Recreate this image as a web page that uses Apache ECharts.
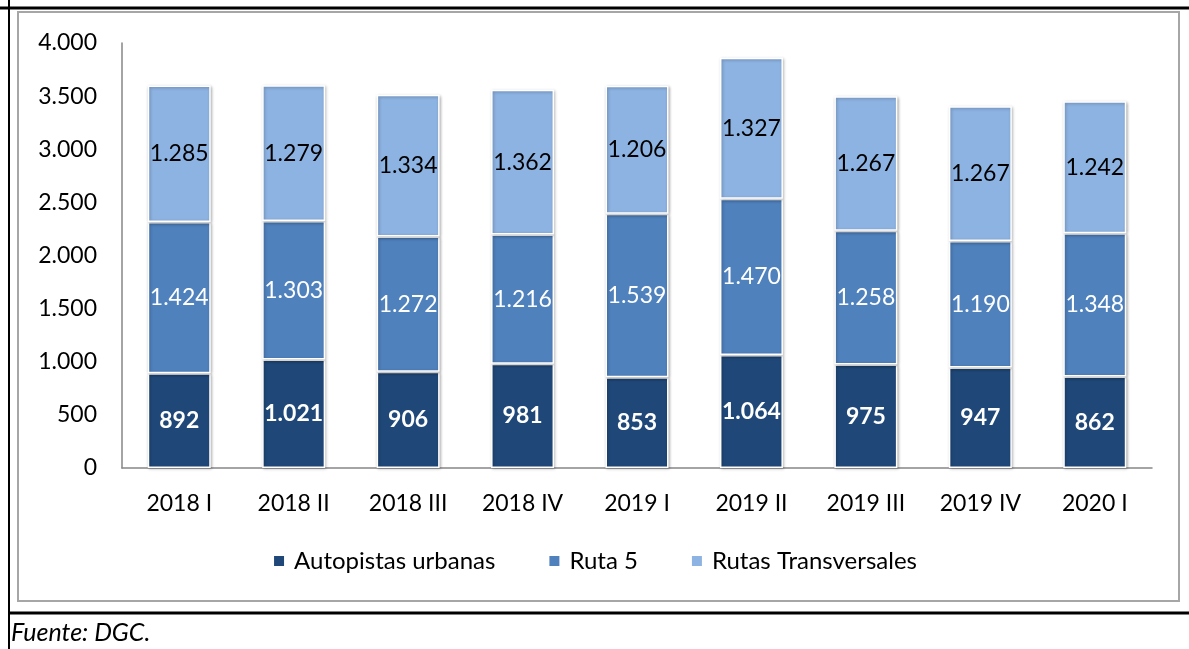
<!DOCTYPE html>
<html>
<head>
<meta charset="utf-8">
<script src="https://cdn.jsdelivr.net/npm/echarts@6/dist/echarts.min.js"></script>
<style>
  html, body { margin: 0; padding: 0; background: #fff; }
  #chart { width: 1189px; height: 649px; }
</style>
</head>
<body>
<div id="chart"></div>
<script>
// periodos
const categories = ['2018 I', '2018 II', '2018 III', '2018 IV', '2019 I', '2019 II', '2019 III', '2019 IV', '2020 I'];
const autopistas = [892, 1021, 906, 981, 853, 1064, 975, 947, 862];
const ruta5 = [1424, 1303, 1272, 1216, 1539, 1470, 1258, 1190, 1348];
const transversales = [1285, 1279, 1334, 1362, 1206, 1327, 1267, 1267, 1242];
const yTicks = [0, 500, 1000, 1500, 2000, 2500, 3000, 3500, 4000];

const fontFam = 'Lato, "Open Sans", sans-serif';

function fmt(v) {
    return String(v).replace(/\B(?=(\d{3})+(?!\d))/g, '.');
}

const chart = echarts.init(document.getElementById('chart'));

const barStyle = (color) => ({
    color: color,
    borderColor: '#ffffff',
    borderWidth: 1.5,
    shadowBlur: 3,
    shadowColor: 'rgba(0,0,0,0.3)',
    shadowOffsetX: 1,
    shadowOffsetY: 1
});

const option = {
    animation: false,
    textStyle: { fontFamily: fontFam },
    grid: { left: 122, right: 37, top: 43, bottom: 181 },
    legend: {
        top: 544,
        left: 'center',
        itemWidth: 12,
        itemHeight: 12,
        itemGap: 52,
        icon: 'rect',
        textStyle: { fontSize: 24, color: '#000', fontFamily: fontFam, padding: [0, 0, 0, 4] },
        data: ['Autopistas urbanas', 'Ruta 5', 'Rutas Transversales']
    },
    xAxis: {
        type: 'category',
        data: categories,
        axisLine: { lineStyle: { color: '#868686', width: 1.5 } },
        axisTick: { show: false },
        axisLabel: { fontSize: 23, color: '#000', margin: 24, fontFamily: fontFam }
    },
    yAxis: {
        type: 'value',
        min: yTicks[0],
        max: yTicks[yTicks.length - 1],
        interval: 500,
        axisLine: { show: true, lineStyle: { color: '#868686', width: 1.5 } },
        axisTick: { show: false },
        splitLine: { show: false },
        axisLabel: { fontSize: 23, color: '#000', margin: 25, fontFamily: fontFam, formatter: fmt }
    },
    series: [
        {
            name: 'Autopistas urbanas',
            type: 'bar',
            stack: 'total',
            barWidth: 63,
            data: autopistas,
            itemStyle: barStyle('#1f4879'),
            label: { show: true, position: 'inside', color: '#fff', fontWeight: 'bold', fontSize: 23, formatter: p => fmt(p.value) }
        },
        {
            name: 'Ruta 5',
            type: 'bar',
            stack: 'total',
            data: ruta5,
            itemStyle: barStyle('#4f81bd'),
            label: { show: true, position: 'inside', color: '#fff', fontSize: 23, formatter: p => fmt(p.value) }
        },
        {
            name: 'Rutas Transversales',
            type: 'bar',
            stack: 'total',
            data: transversales,
            itemStyle: barStyle('#8db3e2'),
            label: { show: true, position: 'inside', color: '#000', fontSize: 23, formatter: p => fmt(p.value) }
        }
    ],
    graphic: [
        // marco gris del grafico
        { type: 'rect', shape: { x: 18, y: 12, width: 1161, height: 589 }, style: { fill: 'none', stroke: '#a6a6a6', lineWidth: 2 }, z: -1 },
        // lineas negras de la tabla
        { type: 'line', shape: { x1: 0, y1: 8, x2: 1189, y2: 8 }, style: { stroke: '#000', lineWidth: 3 } },
        { type: 'line', shape: { x1: 9, y1: 0, x2: 9, y2: 649 }, style: { stroke: '#000', lineWidth: 2 } },
        { type: 'line', shape: { x1: 9, y1: 613, x2: 1189, y2: 613 }, style: { stroke: '#000', lineWidth: 3 } },
        { type: 'text', left: 11, top: 620, style: { text: 'Fuente: DGC.', font: 'italic 25px ' + fontFam, fill: '#000' } }
    ]
};

chart.setOption(option);
</script>
</body>
</html>
